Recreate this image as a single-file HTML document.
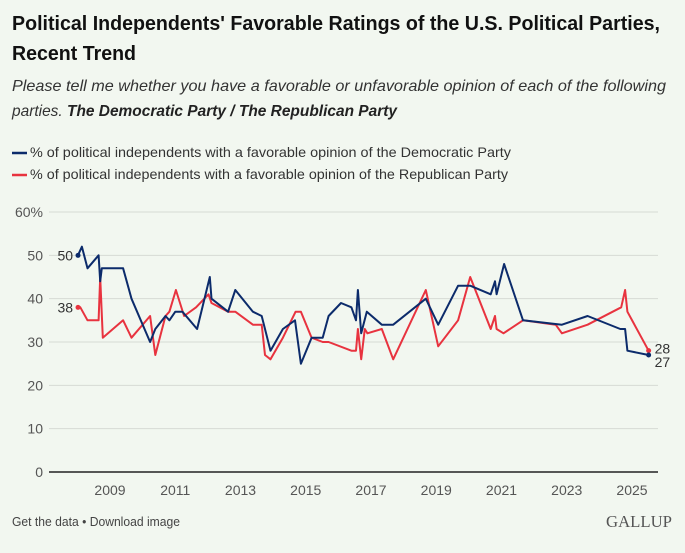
<!DOCTYPE html>
<html><head><meta charset="utf-8"><style>
body{margin:0;background:#f2f7f0;}
svg{display:block;font-family:"Liberation Sans",sans-serif;}
</style></head><body>
<svg id="c" width="685" height="553" viewBox="0 0 685 553">
<rect width="685" height="553" fill="#f2f7f0"/>
<text x="12" y="30" font-size="20" font-weight="bold" fill="#111" textLength="648" lengthAdjust="spacingAndGlyphs">Political Independents' Favorable Ratings of the U.S. Political Parties,</text>
<text x="12" y="60" font-size="20" font-weight="bold" fill="#111" textLength="124" lengthAdjust="spacingAndGlyphs">Recent Trend</text>
<text x="12" y="91" font-size="16" font-style="italic" fill="#333" textLength="654" lengthAdjust="spacingAndGlyphs">Please tell me whether you have a favorable or unfavorable opinion of each of the following</text>
<text x="12" y="116" font-size="16" font-style="italic" fill="#333" textLength="385" lengthAdjust="spacingAndGlyphs">parties. <tspan font-weight="bold" fill="#222">The Democratic Party / The Republican Party</tspan></text>
<g>
<line x1="12" y1="153" x2="27" y2="153" stroke="#0c2b6b" stroke-width="2.5"/>
<text x="30" y="157" font-size="14" fill="#333" textLength="481" lengthAdjust="spacingAndGlyphs">% of political independents with a favorable opinion of the Democratic Party</text>
<line x1="12" y1="175" x2="27" y2="175" stroke="#e8333f" stroke-width="2.5"/>
<text x="30" y="179" font-size="14" fill="#333" textLength="478" lengthAdjust="spacingAndGlyphs">% of political independents with a favorable opinion of the Republican Party</text>
</g>
<g id="grid"></g><g id="plot"></g>
<text x="12" y="526" font-size="13" fill="#444" textLength="168" lengthAdjust="spacingAndGlyphs">Get the data • Download image</text>
<text x="672" y="527" font-size="17" font-family="Liberation Serif,serif" fill="#555" text-anchor="end" textLength="66" lengthAdjust="spacingAndGlyphs">GALLUP</text>
</svg>
<script>
const yTicks=[0,10,20,30,40,50,60];
const xTicks=[2009,2011,2013,2015,2017,2019,2021,2023,2025];
const demYears=[2008.02,2008.14,2008.31,2008.65,2008.70,2008.75,2009.40,2009.66,2010.23,2010.39,2010.70,2010.82,2011.00,2011.22,2011.67,2012.06,2012.11,2012.62,2012.84,2013.38,2013.65,2013.92,2014.30,2014.67,2014.85,2015.18,2015.52,2015.70,2016.08,2016.40,2016.54,2016.60,2016.70,2016.87,2017.33,2017.68,2018.68,2019.06,2019.67,2020.04,2020.67,2020.80,2020.85,2021.08,2021.66,2022.85,2023.64,2024.64,2024.79,2024.86,2025.51];
const demValues=[50,52,47,50,44,47,47,40,30,33,36,35,37,37,33,45,40,37,42,37,36,28,33,35,25,31,31,36,39,38,35,42,32,37,34,34,40,34,43,43,41,44,41,48,35,34,36,33,33,28,27];
const repYears=[2008.02,2008.09,2008.31,2008.65,2008.70,2008.78,2009.40,2009.66,2010.23,2010.39,2010.70,2010.82,2011.02,2011.27,2011.64,2012.02,2012.11,2012.62,2012.84,2013.38,2013.65,2013.75,2013.92,2014.30,2014.69,2014.85,2015.18,2015.52,2015.70,2016.40,2016.54,2016.60,2016.70,2016.81,2016.89,2017.33,2017.68,2018.68,2019.06,2019.67,2020.04,2020.67,2020.80,2020.85,2021.06,2021.66,2022.66,2022.85,2023.64,2024.67,2024.79,2024.86,2025.51];
const repValues=[38,38,35,35,45,31,35,31,36,27,36,37,42,36,38,41,39,37,37,34,34,27,26,31,37,37,31,30,30,28,28,33,26,33,32,33,26,42,29,35,45,33,36,33,32,35,34,32,34,38,42,37,28];
const NS='http://www.w3.org/2000/svg';
const X0=49,X1=658;
function xs(y){return 110+(y-2009)*32.625;}
function ys(v){return 472-v*(260/60);}
function mk(t,a,p){const e=document.createElementNS(NS,t);for(const k in a)e.setAttribute(k,a[k]);p.appendChild(e);return e;}
const grid=document.getElementById('grid'),plot=document.getElementById('plot');
yTicks.forEach(v=>{
 const l=mk('line',{x1:X0,x2:X1,y1:ys(v),y2:ys(v),stroke:v===0?'#222':'#d6dbd4','stroke-width':v===0?1.5:1},grid);
 
 
 const t=mk('text',{x:43,y:ys(v)+5,'font-size':14,fill:'#555','text-anchor':'end'},grid);
 t.textContent=v===60?'60%':String(v);
 
 
});
xTicks.forEach(yr=>{
 const t=mk('text',{x:xs(yr),y:495,'font-size':14,fill:'#555','text-anchor':'middle'},grid);
 t.textContent=String(yr);
 
 
});
function series(years,vals,color,name){
 const d=years.map((y,i)=>(i?'L':'M')+xs(y).toFixed(1)+','+ys(vals[i]).toFixed(1)).join('');
 const p=mk('path',{d:d,fill:'none',stroke:color,'stroke-width':2,'stroke-linejoin':'round'},plot);
 
 
 [0,years.length-1].forEach(i=>{
  const c=mk('circle',{cx:xs(years[i]),cy:ys(vals[i]),r:2.5,fill:color},plot);
  
  
 });
}
series(repYears,repValues,'#e8333f','republican');
series(demYears,demValues,'#0c2b6b','democratic');
function lab(x,y,s,anchor,name){const t=mk('text',{x:x,y:y,'font-size':14,fill:'#333','text-anchor':anchor},plot);t.textContent=s;
 
 }
lab(xs(demYears[0])-5,ys(demValues[0])+5,String(demValues[0]),'end','democratic-start-label');
lab(xs(repYears[0])-5,ys(repValues[0])+5,String(repValues[0]),'end','republican-start-label');
lab(xs(repYears[repYears.length-1])+6,ys(repValues[repValues.length-1])+3,String(repValues[repValues.length-1]),'start','republican-end-label');
lab(xs(demYears[demYears.length-1])+6,ys(demValues[demValues.length-1])+12,String(demValues[demValues.length-1]),'start','democratic-end-label');
</script>
</body></html>
